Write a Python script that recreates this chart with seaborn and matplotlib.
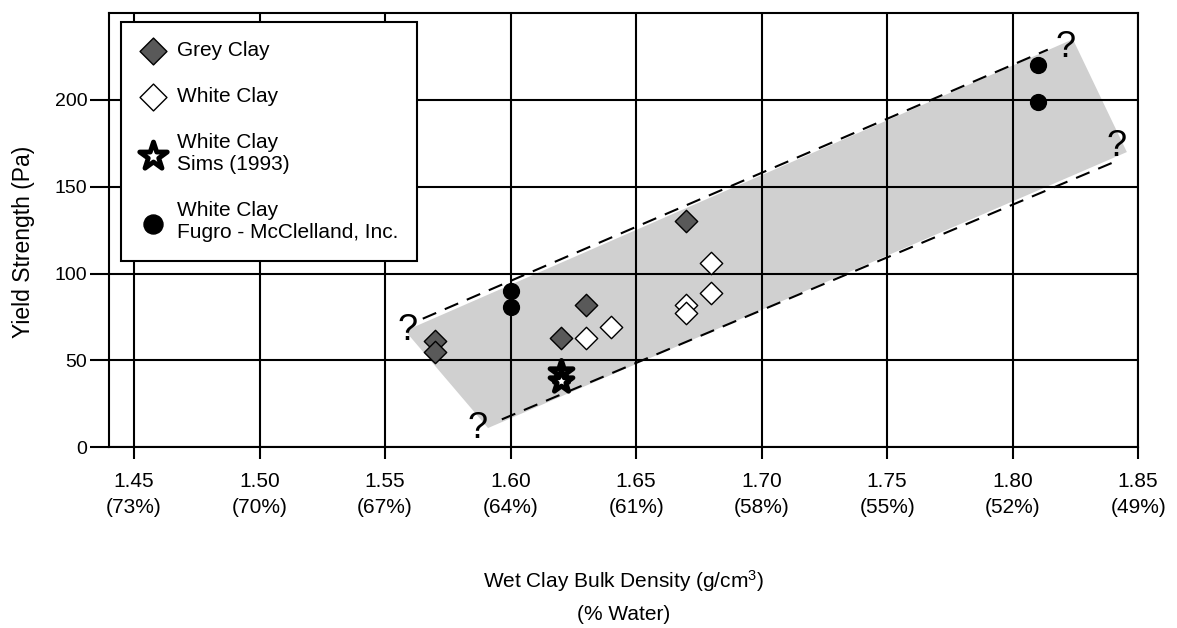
import matplotlib
matplotlib.use("Agg")
import matplotlib.pyplot as plt
import seaborn as sns

# ---- DATA ----
# wet bulk density (g/cm3) vs yield strength (Pa)
grey_density = [1.57, 1.57, 1.62, 1.63, 1.67]
grey_strength = [61, 55, 63, 82, 130]

white_density = [1.63, 1.64, 1.67, 1.67, 1.68, 1.68]
white_strength = [63, 69, 82, 77, 106, 89]

sims_density = [1.62, 1.62]
sims_strength = [43, 38]

fugro_density = [1.60, 1.60, 1.81, 1.81]
fugro_strength = [90, 81, 220, 199]

# shaded envelope + dashed bounds + "?" marks
envelope_density = [1.558, 1.824, 1.8455, 1.591]
envelope_strength = [67, 235, 170, 11]
upper_density = [1.565, 1.814]
upper_strength = [74, 229]
lower_density = [1.5965, 1.840]
lower_strength = [16, 164]
question_density = [1.559, 1.587, 1.821, 1.8415]
question_strength = [67, 11, 230, 173]

density_ticks = [1.45, 1.50, 1.55, 1.60, 1.65, 1.70, 1.75, 1.80, 1.85]
water_pct = ["73%", "70%", "67%", "64%", "61%", "58%", "55%", "52%", "49%"]
strength_ticks = [0, 50, 100, 150, 200]

# ---- STYLE ----
sns.set_theme(style="ticks")
plt.rcParams["font.family"] = ["Liberation Sans", "DejaVu Sans"]
plt.rcParams["mathtext.fontset"] = "custom"
plt.rcParams["mathtext.rm"] = "Liberation Sans"
plt.rcParams["mathtext.it"] = "Liberation Sans:italic"
plt.rcParams["text.color"] = "black"

fig, ax = plt.subplots(figsize=(11.77, 6.28), dpi=100)
fig.subplots_adjust(left=0.0926, right=0.967, top=0.979, bottom=0.288)

# envelope
ax.fill(envelope_density, envelope_strength, color="#d0d0d0", lw=0, zorder=0.3)
ax.plot(upper_density, upper_strength, color="black", lw=1.5, ls=(0, (7, 4.5)), zorder=2)
ax.plot(lower_density, lower_strength, color="black", lw=1.5, ls=(0, (7, 4.5)), zorder=2)
for qx, qy in zip(question_density, question_strength):
    ax.text(qx, qy, "?", fontsize=26, ha="center", va="center", color="black", zorder=4)

# points
sns.scatterplot(x=grey_density, y=grey_strength, marker="D", s=130, color="#595959",
                edgecolor="black", linewidth=1, label="Grey Clay", ax=ax, zorder=3)
sns.scatterplot(x=white_density, y=white_strength, marker="D", s=130, color="white",
                edgecolor="black", linewidth=1, label="White Clay", ax=ax, zorder=3)
sns.scatterplot(x=sims_density, y=sims_strength, marker="*", s=300, color="white",
                edgecolor="black", linewidth=3.5, label="White Clay\nSims (1993)", ax=ax, zorder=3)
sns.scatterplot(x=fugro_density, y=fugro_strength, marker="o", s=130, color="black",
                edgecolor="black", linewidth=1, label="White Clay\nFugro - McClelland, Inc.",
                ax=ax, zorder=3)

# axes
ax.set_xlim(1.44, 1.85)
ax.set_ylim(0, 250)
ax.set_xticks(density_ticks, labels=[f"{d:.2f}\n({w})" for d, w in zip(density_ticks, water_pct)])
ax.set_yticks(strength_ticks)
ax.tick_params(axis="x", length=8.6, width=1.5, pad=9, labelsize=15, colors="black")
ax.tick_params(axis="y", length=13.7, width=1.5, pad=2, labelsize=14, colors="black")
ax.grid(True, color="black", lw=1.5)
ax.set_axisbelow(True)
for sp in ax.spines.values():
    sp.set_visible(True)
    sp.set_color("black")
    sp.set_linewidth(1.5)

ax.set_ylabel("Yield Strength (Pa)", fontsize=16.5, color="black")
ax.yaxis.set_label_coords(-0.072, 0.472)
ax.set_xlabel("Wet Clay Bulk Density (g/cm$^3$)\n(% Water)", fontsize=15,
              linespacing=1.7, color="black")
ax.xaxis.set_label_coords(0.5, -0.279)

leg = ax.legend(loc="upper left", bbox_to_anchor=(0.0117, 0.979), borderaxespad=0,
                frameon=True, fancybox=False, edgecolor="black", framealpha=1, fontsize=15,
                labelspacing=1.3, borderpad=0.9, handletextpad=0.5, handlelength=1.3,
                markerscale=1.2)
leg.get_frame().set_linewidth(1.5)

# two-line tick labels need more room between lines
fig.canvas.draw()
for lab in ax.get_xticklabels():
    lab.set_linespacing(1.5)

plt.savefig("out.png", dpi=100)
